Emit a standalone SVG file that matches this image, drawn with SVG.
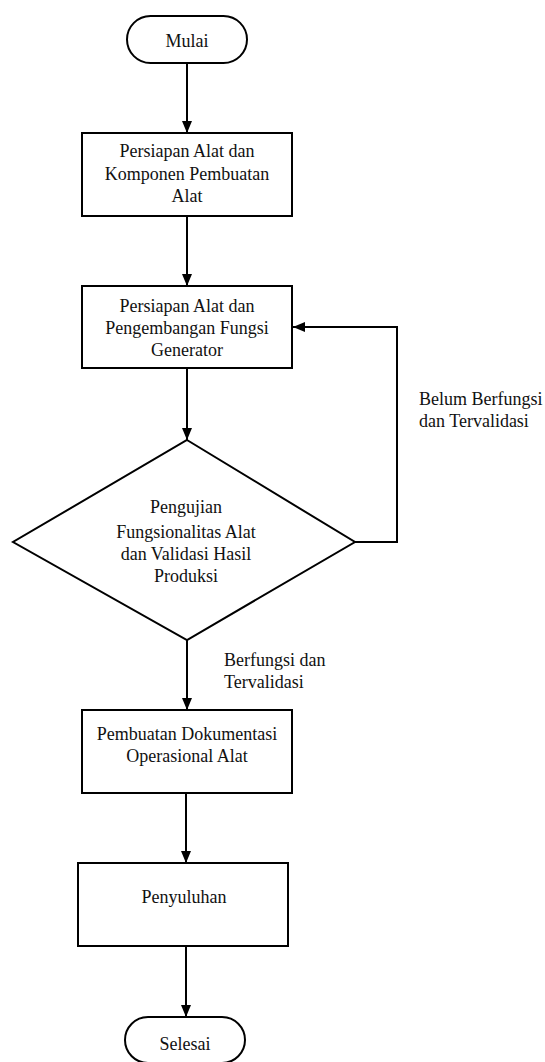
<svg xmlns="http://www.w3.org/2000/svg" width="545" height="1062" viewBox="0 0 545 1062">
<style>
.s{fill:#fff;stroke:#000;stroke-width:2}
.t{font-family:"Liberation Serif","Times New Roman",serif;font-size:18px;fill:#111;text-anchor:middle}
.l{font-family:"Liberation Serif","Times New Roman",serif;font-size:18px;fill:#111}
.c{fill:none;stroke:#000;stroke-width:2}
</style>
<defs>
<marker id="ah" markerUnits="userSpaceOnUse" markerWidth="12" markerHeight="12" refX="12" refY="6" orient="auto">
<path d="M0,1 L12,6 L0,11 Z" fill="#000"/>
</marker>
</defs>
<rect width="545" height="1062" fill="#fff"/>
<g id="connectors">
<line class="c" x1="187" y1="63" x2="187" y2="133" marker-end="url(#ah)"/>
<line class="c" x1="187" y1="216" x2="187" y2="286" marker-end="url(#ah)"/>
<line class="c" x1="187" y1="368" x2="187" y2="440" marker-end="url(#ah)"/>
<polyline class="c" points="355,542 397,542 397,327 293,327" marker-end="url(#ah)"/>
<line class="c" x1="187" y1="640" x2="187" y2="710" marker-end="url(#ah)"/>
<line class="c" x1="186" y1="793" x2="186" y2="863" marker-end="url(#ah)"/>
<line class="c" x1="186" y1="946" x2="186" y2="1017" marker-end="url(#ah)"/>
<text class="l" x="419" y="405">Belum Berfungsi</text>
<text class="l" x="419" y="427">dan Tervalidasi</text>
<text class="l" x="224" y="666">Berfungsi dan</text>
<text class="l" x="224" y="688">Tervalidasi</text>
</g>
<g id="mulai">
<rect class="s" x="127" y="16" width="120" height="47" rx="23.5"/>
<text class="t" x="187" y="47">Mulai</text>
</g>
<g id="persiapan1">
<rect class="s" x="82" y="133" width="210" height="83"/>
<text class="t" x="187" y="157">Persiapan Alat dan</text>
<text class="t" x="187" y="180">Komponen Pembuatan</text>
<text class="t" x="187" y="202">Alat</text>
</g>
<g id="persiapan2">
<rect class="s" x="82" y="286" width="210" height="82"/>
<text class="t" x="187" y="312">Persiapan Alat dan</text>
<text class="t" x="187" y="334">Pengembangan Fungsi</text>
<text class="t" x="187" y="356">Generator</text>
</g>
<g id="pengujian">
<polygon class="s" points="187,440 355,542 187,640 13,542"/>
<text class="t" x="186" y="513">Pengujian</text>
<text class="t" x="186" y="538">Fungsionalitas Alat</text>
<text class="t" x="186" y="560">dan Validasi Hasil</text>
<text class="t" x="186" y="582">Produksi</text>
</g>
<g id="dokumentasi">
<rect class="s" x="82" y="710" width="210" height="83"/>
<text class="t" x="187" y="740">Pembuatan Dokumentasi</text>
<text class="t" x="187" y="762">Operasional Alat</text>
</g>
<g id="penyuluhan">
<rect class="s" x="78" y="863" width="210" height="83"/>
<text class="t" x="184" y="903">Penyuluhan</text>
</g>
<g id="selesai">
<rect class="s" x="125" y="1017" width="120" height="46" rx="23"/>
<text class="t" x="185" y="1050">Selesai</text>
</g>
</svg>
